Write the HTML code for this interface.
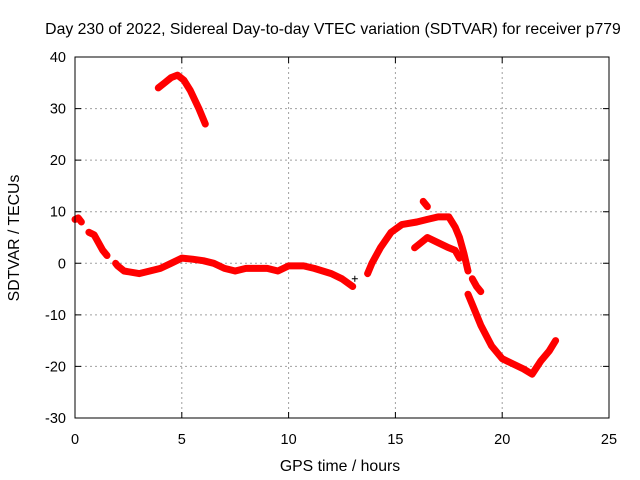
<!DOCTYPE html>
<html><head><meta charset="utf-8"><style>
html,body{margin:0;padding:0;background:#fff}
svg{display:block;font-family:"Liberation Sans",sans-serif}
</style></head><body>
<svg id="chart" width="640" height="480" viewBox="0 0 640 480">
<rect width="640" height="480" fill="#fff"/>
<text x="333" y="34" font-size="15.8" text-anchor="middle">Day 230 of 2022, Sidereal Day-to-day VTEC variation (SDTVAR) for receiver p779</text>
<g id="grid"></g>
<g id="ticks"></g>
<g id="series"></g>
<rect x="75" y="57" width="534" height="361" fill="none" stroke="#000" stroke-width="1"/>
<text x="340" y="471" font-size="15.8" text-anchor="middle">GPS time / hours</text>
<text x="19" y="238" font-size="15.8" text-anchor="middle" transform="rotate(-90 19 238)">SDTVAR / TECUs</text>
</svg>
<script>
const xTicks = [0, 5, 10, 15, 20, 25];
const yTicks = [-30, -20, -10, 0, 10, 20, 30, 40];
const seg1Hours = [0, 0.15, 0.3];
const seg1Values = [8.5, 8.8, 8];
const seg2Hours = [0.65, 0.9, 1.1, 1.3, 1.5];
const seg2Values = [6, 5.5, 4, 2.5, 1.5];
const seg3Hours = [1.9, 2.0, 2.3, 3.0, 3.5, 4.0, 4.5, 5.0, 5.5, 6.0, 6.5, 7.0, 7.5, 8.0, 9.0, 9.5, 10.0, 10.7, 11.2, 12.0, 12.5, 13.0];
const seg3Values = [0, -0.5, -1.5, -2, -1.5, -1, 0, 1, 0.8, 0.5, 0, -1, -1.5, -1, -1, -1.5, -0.5, -0.5, -1, -2, -3, -4.5];
const seg4Hours = [3.9, 4.2, 4.5, 4.8, 5.1, 5.4, 5.8, 6.1];
const seg4Values = [34, 35, 36, 36.5, 35.5, 33.5, 30, 27];
const seg5Hours = [13.7, 13.9, 14.3, 14.8, 15.3, 16.0, 16.5, 17.0, 17.5, 17.8, 18.0, 18.2, 18.4];
const seg5Values = [-2, 0, 3, 6, 7.5, 8, 8.5, 9, 9, 7, 5, 2, -1.5];
const seg6Hours = [15.9, 16.2, 16.5, 17.0, 17.5, 17.8, 18.0];
const seg6Values = [3, 4, 5, 4, 3, 2.5, 1];
const seg7Hours = [16.3, 16.5];
const seg7Values = [12, 11];
const seg8Hours = [18.6, 18.8, 19.0];
const seg8Values = [-3, -4.5, -5.5];
const seg9Hours = [18.4, 18.6, 19.0, 19.5, 20.0, 20.5, 21.0, 21.4, 21.8, 22.2, 22.5];
const seg9Values = [-6, -8, -12, -16, -18.5, -19.5, -20.5, -21.5, -19, -17, -15];
const segments = [[seg1Hours,seg1Values],[seg2Hours,seg2Values],[seg3Hours,seg3Values],[seg4Hours,seg4Values],[seg5Hours,seg5Values],[seg6Hours,seg6Values],[seg7Hours,seg7Values],[seg8Hours,seg8Values],[seg9Hours,seg9Values]];
const markerHours = [13.1];
const markerValues = [-3];

const NS = "http://www.w3.org/2000/svg";
const X0 = 75, X1 = 609, Y0 = 418, Y1 = 57;
function xs(v){ return X0 + (v - 0) / 25 * (X1 - X0); }
function ys(v){ return Y0 - (v + 30) / 70 * (Y0 - Y1); }
function mk(tag, attrs, parent){ const e = document.createElementNS(NS, tag); for (const k in attrs) e.setAttribute(k, attrs[k]); parent.appendChild(e); return e; }
const grid = document.getElementById('grid'), ticks = document.getElementById('ticks'), series = document.getElementById('series');

xTicks.forEach(t => {
  const x = xs(t);
  if (t > 0 && t < 25) {
    const g = mk('line', {x1:x, x2:x, y1:Y1, y2:Y0, stroke:'#a0a0a0', 'stroke-dasharray':'2,3'}, grid);
    
    
  }
  const l = mk('text', {x:x, y:444, 'font-size':14.5, 'text-anchor':'middle'}, ticks);
  l.textContent = t;
  
  
  const tk = mk('path', {d:`M${x},${Y0}v-6M${x},${Y1}v6`, stroke:'#000'}, ticks);
  
  
});
yTicks.forEach(t => {
  const y = ys(t);
  if (t > -30 && t < 40) {
    const g = mk('line', {x1:X0, x2:X1, y1:y, y2:y, stroke:'#a0a0a0', 'stroke-dasharray':'2,3'}, grid);
    
    
  }
  const l = mk('text', {x:66, y:y + 5, 'font-size':14.5, 'text-anchor':'end'}, ticks);
  l.textContent = t;
  
  
  const tk = mk('path', {d:`M${X0},${y}h6M${X1},${y}h-6`, stroke:'#000'}, ticks);
  
  
});
segments.forEach(([hs, vs]) => {
  const pts = hs.map((h, i) => xs(h).toFixed(1) + ',' + ys(vs[i]).toFixed(1)).join(' ');
  const p = mk('polyline', {points:pts, fill:'none', stroke:'#ff0000', 'stroke-width':7, 'stroke-linejoin':'round', 'stroke-linecap':'round'}, series);
  
  
});
markerHours.forEach((h, i) => {
  const x = xs(h), y = ys(markerValues[i]);
  const m = mk('path', {d:`M${x-3},${y}h6M${x},${y-3}v6`, stroke:'#000', 'stroke-width':1}, series);
  
  
});
</script>
</body></html>
